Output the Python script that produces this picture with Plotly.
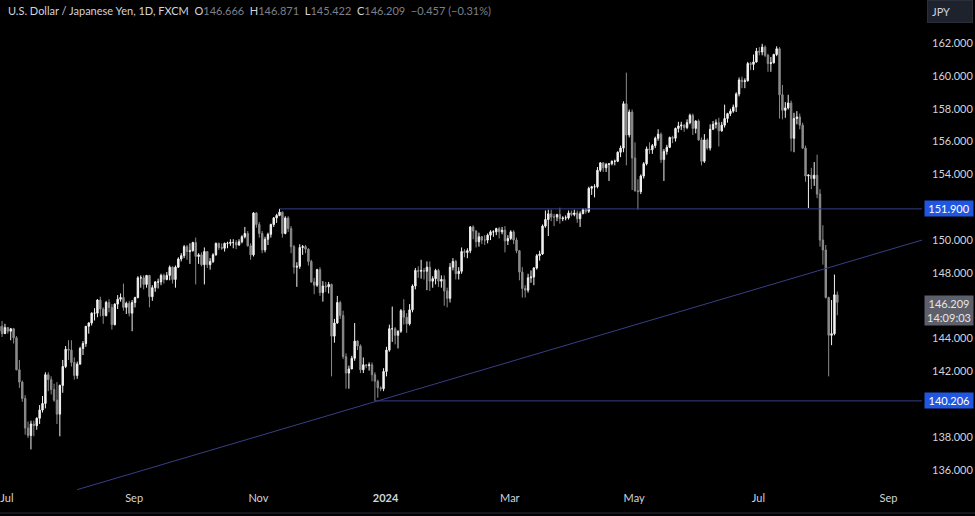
import pandas as pd
import plotly.graph_objects as go

# ---- Daily OHLC, USD/JPY (FXCM), 2023-06-29 .. 2024-08-08 (weekdays) ----
opens = [
    144.45, 144.75,
    144.30, 144.67, 144.45, 144.60, 144.05, 142.10, 141.35, 140.35, 138.55, 138.10, 138.80, 138.70, 139.15, 139.65, 140.05, 141.80, 141.50, 140.90, 140.25, 139.40, 141.15,
    142.30, 143.35, 143.30, 142.55, 141.75, 142.45, 143.40, 143.70, 144.75, 144.95, 145.55, 145.55, 146.35, 145.80, 145.40, 146.20, 145.90, 144.85, 146.10, 146.40, 146.50, 145.90, 146.15,
    145.55, 146.20, 146.50, 147.70, 147.70, 147.30, 147.85, 146.55, 147.10, 147.45, 147.45, 147.85, 147.60, 147.85, 148.35, 147.60, 148.35, 148.85, 149.05, 149.60, 149.30,
    149.35, 149.85, 149.00, 149.10, 148.50, 149.30, 148.50, 148.70, 149.10, 149.80, 149.55, 149.50, 149.80, 149.80, 149.85, 149.85, 149.70, 149.90, 150.20, 150.40, 149.65, 149.10,
    151.65, 150.95, 150.40, 149.40, 150.05, 150.35, 150.95, 151.35, 151.50, 151.70, 150.40, 151.35, 150.70, 149.60, 148.35, 148.40, 149.55, 149.60, 149.45, 148.70, 147.45, 147.25,
    148.20, 146.80, 147.20, 147.15, 147.30, 144.15, 144.95, 146.20, 145.40, 142.90, 141.90, 142.15, 142.80, 143.85, 143.55, 142.10, 142.40, 142.35, 142.40, 141.80, 141.40,
    141.00, 140.95, 142.00, 143.30, 144.60, 144.60, 144.20, 144.45, 145.70, 145.30, 144.90, 145.75, 147.20, 148.15, 148.10, 148.15, 148.10, 148.35, 147.50, 147.65, 148.15, 147.50, 147.60,
    146.90, 146.45, 148.35, 148.70, 147.95, 148.10, 149.30, 149.25, 149.35, 150.80, 150.55, 149.90, 150.20, 150.00, 150.00, 150.30, 150.50, 150.50, 150.70, 150.50, 150.60,
    149.95, 150.10, 150.50, 150.00, 149.35, 148.05, 147.05, 146.95, 147.70, 147.75, 148.30, 149.05, 149.15, 150.85, 151.25, 151.60, 151.40, 151.40, 151.55, 151.30, 151.35,
    151.35, 151.65, 151.55, 151.65, 151.30, 151.60, 151.85, 151.75, 153.15, 153.25, 153.25, 154.25, 154.70, 154.40, 154.60, 154.65, 154.80, 154.80, 155.35, 155.60, 158.30, 156.40,
    157.80, 155.00, 153.00, 152.95, 153.90, 154.65, 155.55, 155.50, 155.75, 156.20, 156.45, 154.90, 155.40, 155.65, 156.25, 156.20, 156.80, 156.95, 157.00, 156.85, 157.15, 157.60, 156.80,
    157.25, 156.10, 154.80, 156.10, 155.60, 156.75, 157.05, 157.15, 156.65, 157.00, 157.40, 157.70, 157.85, 158.10, 158.90, 159.75, 159.65, 159.70, 160.75, 160.70,
    160.85, 161.50, 161.45, 161.75, 161.25, 160.75, 160.80, 161.30, 161.65, 158.85, 157.90, 158.05, 158.35, 156.20, 157.40, 157.50, 157.00, 155.60, 153.90, 153.95, 153.75, 153.95, 152.80,
    150.00, 149.40, 146.50, 144.20, 144.30, 146.666,
]
highs = [
    144.80, 145.07,
    144.90, 144.70, 144.65, 144.65, 144.15, 142.70, 141.45, 140.55, 138.95, 139.00, 139.00, 139.20, 139.95, 140.50, 141.95, 141.95, 141.70, 141.25, 141.35, 141.20, 142.70,
    143.55, 143.90, 143.90, 142.85, 142.60, 143.50, 143.85, 144.75, 145.00, 145.60, 145.85, 146.40, 146.55, 145.90, 146.30, 146.40, 146.10, 146.15, 146.65, 146.75, 147.35, 146.25, 146.30,
    146.35, 146.55, 147.80, 147.85, 147.85, 147.85, 147.85, 147.25, 147.50, 147.65, 147.95, 147.95, 148.05, 148.45, 148.40, 148.45, 148.95, 149.20, 149.70, 149.70, 149.80,
    149.90, 150.15, 149.20, 149.25, 149.55, 149.30, 148.90, 149.20, 149.85, 149.85, 149.80, 149.85, 149.90, 150.05, 150.05, 150.00, 150.05, 150.30, 150.80, 150.55, 149.80, 151.70,
    151.70, 151.10, 150.55, 150.20, 150.45, 151.00, 151.40, 151.60, 151.90, 151.75, 151.45, 151.45, 150.85, 149.70, 148.65, 149.75, 149.70, 149.70, 149.50, 148.80, 147.70, 148.25,
    148.35, 147.50, 147.45, 147.45, 147.35, 145.20, 146.60, 146.30, 145.70, 143.10, 142.35, 142.95, 144.95, 143.90, 143.65, 142.85, 142.45, 142.55, 142.55, 141.95, 141.50,
    141.10, 142.20, 143.50, 144.85, 145.95, 144.70, 144.50, 145.80, 146.40, 145.55, 146.10, 147.30, 148.30, 148.40, 148.80, 148.30, 148.70, 148.70, 147.80, 148.25, 148.25, 147.85, 147.85,
    147.10, 148.60, 148.90, 148.80, 148.35, 149.55, 149.45, 149.50, 150.85, 150.90, 150.60, 150.45, 150.25, 150.30, 150.40, 150.60, 150.60, 150.75, 150.80, 150.80, 150.85,
    150.30, 150.60, 150.60, 150.15, 149.40, 148.35, 147.25, 147.95, 148.15, 148.35, 149.15, 149.35, 150.95, 151.80, 151.85, 151.85, 151.60, 151.60, 151.97, 151.45, 151.50,
    151.80, 151.80, 151.85, 151.80, 151.75, 151.95, 151.95, 153.25, 153.30, 153.40, 154.45, 154.75, 154.75, 154.70, 154.65, 154.85, 154.90, 155.40, 155.75, 158.45, 160.20, 157.95,
    157.95, 155.95, 153.70, 154.00, 154.75, 155.70, 155.95, 155.85, 156.30, 156.75, 156.55, 155.55, 155.80, 156.30, 156.35, 156.85, 157.20, 157.20, 157.05, 157.35, 157.70, 157.70, 157.30,
    157.35, 156.25, 156.45, 156.20, 157.05, 157.25, 157.35, 157.45, 157.20, 158.25, 157.75, 158.00, 158.25, 159.00, 159.90, 159.95, 159.85, 160.85, 160.85, 161.30,
    161.70, 161.75, 161.95, 161.85, 161.35, 161.15, 161.35, 161.80, 161.75, 159.45, 158.40, 158.85, 158.50, 157.75, 157.85, 157.70, 157.15, 155.75, 154.00, 154.40, 154.75, 155.20, 153.10,
    150.90, 149.70, 146.55, 146.35, 147.90, 146.871,
]
lows = [
    144.20, 144.10,
    144.30, 144.30, 143.90, 143.70, 142.07, 141.00, 140.15, 138.15, 137.95, 137.25, 138.05, 138.45, 138.80, 139.50, 139.75, 140.80, 140.60, 140.15, 138.80, 138.05, 140.70,
    142.20, 142.70, 142.30, 141.50, 141.55, 142.40, 143.00, 143.50, 144.30, 144.80, 145.10, 145.30, 145.35, 144.90, 145.35, 145.60, 144.55, 144.80, 145.80, 146.25, 145.70, 145.50, 145.35,
    144.45, 145.90, 146.45, 147.10, 147.00, 147.10, 145.90, 146.30, 146.85, 147.05, 147.25, 147.35, 147.55, 147.55, 147.35, 147.10, 148.30, 148.70, 148.90, 148.80, 148.55,
    149.30, 147.30, 148.55, 148.40, 147.30, 148.30, 148.20, 148.60, 149.05, 149.40, 149.40, 149.30, 149.50, 149.65, 149.50, 149.45, 149.65, 149.80, 150.10, 149.60, 148.80, 149.00,
    150.75, 150.15, 149.20, 149.25, 149.70, 150.15, 150.80, 151.05, 151.45, 150.15, 150.35, 150.50, 149.20, 147.95, 147.15, 148.25, 149.10, 149.20, 148.45, 147.40, 146.70, 147.15,
    146.60, 146.25, 146.85, 146.75, 141.70, 143.75, 144.90, 145.20, 142.75, 140.95, 140.95, 142.15, 142.65, 143.30, 141.90, 141.90, 142.20, 142.05, 141.40, 140.21, 140.40,
    140.80, 140.80, 141.70, 143.20, 143.80, 143.65, 143.40, 144.35, 144.85, 144.35, 144.80, 145.60, 147.00, 147.70, 147.65, 147.60, 146.95, 146.90, 147.10, 147.30, 147.15, 147.10, 146.00,
    145.90, 146.20, 148.15, 147.60, 147.60, 147.95, 148.95, 148.90, 149.20, 150.05, 149.55, 149.60, 149.75, 149.70, 149.80, 150.00, 150.20, 150.30, 150.10, 150.35, 149.25,
    149.70, 150.00, 149.75, 149.20, 147.55, 146.50, 146.50, 146.80, 147.40, 147.25, 148.20, 148.75, 149.10, 150.75, 150.25, 151.15, 150.85, 151.15, 151.00, 151.15, 151.20,
    151.25, 151.45, 151.45, 151.05, 150.80, 151.60, 151.60, 151.65, 152.75, 152.60, 153.15, 154.15, 154.15, 154.15, 153.60, 154.55, 154.55, 154.75, 155.05, 155.35, 154.55, 156.25,
    153.05, 152.95, 151.85, 152.80, 153.75, 154.55, 155.25, 155.25, 155.60, 156.05, 154.70, 153.60, 155.20, 155.60, 155.90, 156.00, 156.55, 156.70, 156.60, 156.75, 157.05, 156.40, 156.50,
    156.05, 154.55, 154.70, 155.50, 155.45, 156.70, 156.80, 155.70, 156.60, 156.85, 157.15, 157.55, 157.75, 157.80, 158.75, 159.25, 159.25, 159.65, 160.35, 160.35,
    160.80, 161.25, 161.25, 161.15, 160.25, 160.25, 160.75, 161.20, 157.40, 157.35, 157.45, 157.95, 155.40, 155.35, 157.05, 156.75, 155.55, 153.55, 151.95, 153.10, 153.30, 152.55, 149.60,
    148.50, 146.45, 141.70, 143.60, 144.20, 145.422,
]
closes = [
    144.75, 144.30,
    144.67, 144.45, 144.60, 144.05, 142.10, 141.35, 140.35, 138.55, 138.10, 138.80, 138.70, 139.15, 139.65, 140.05, 141.80, 141.50, 140.90, 140.25, 139.40, 141.15, 142.30,
    143.35, 143.30, 142.55, 141.75, 142.45, 143.40, 143.70, 144.75, 144.95, 145.55, 145.55, 146.35, 145.80, 145.40, 146.20, 145.90, 144.85, 146.10, 146.40, 146.50, 145.90, 146.15, 145.55,
    146.20, 146.50, 147.70, 147.70, 147.30, 147.85, 146.55, 147.10, 147.45, 147.45, 147.85, 147.60, 147.85, 148.35, 147.60, 148.35, 148.85, 149.05, 149.60, 149.30, 149.35,
    149.85, 149.00, 149.10, 148.50, 149.30, 148.50, 148.70, 149.10, 149.80, 149.55, 149.50, 149.80, 149.80, 149.85, 149.85, 149.70, 149.90, 150.20, 150.40, 149.65, 149.10, 151.65,
    150.95, 150.40, 149.40, 150.05, 150.35, 150.95, 151.35, 151.50, 151.70, 150.40, 151.35, 150.70, 149.60, 148.35, 148.40, 149.55, 149.60, 149.45, 148.70, 147.45, 147.25, 148.20,
    146.80, 147.20, 147.15, 147.30, 144.15, 144.95, 146.20, 145.40, 142.90, 141.90, 142.15, 142.80, 143.85, 143.55, 142.10, 142.40, 142.35, 142.40, 141.80, 141.40, 141.00,
    140.95, 142.00, 143.30, 144.60, 144.60, 144.20, 144.45, 145.70, 145.30, 144.90, 145.75, 147.20, 148.15, 148.10, 148.15, 148.10, 148.35, 147.50, 147.65, 148.15, 147.50, 147.60, 146.90,
    146.45, 148.35, 148.70, 147.95, 148.10, 149.30, 149.25, 149.35, 150.80, 150.55, 149.90, 150.20, 150.00, 150.00, 150.30, 150.50, 150.50, 150.70, 150.50, 150.60, 149.95,
    150.10, 150.50, 150.00, 149.35, 148.05, 147.05, 146.95, 147.70, 147.75, 148.30, 149.05, 149.15, 150.85, 151.25, 151.60, 151.40, 151.40, 151.55, 151.30, 151.35, 151.35,
    151.65, 151.55, 151.65, 151.30, 151.60, 151.85, 151.75, 153.15, 153.25, 153.25, 154.25, 154.70, 154.40, 154.60, 154.65, 154.80, 154.80, 155.35, 155.60, 158.30, 156.40, 157.80,
    155.00, 153.00, 152.95, 153.90, 154.65, 155.55, 155.50, 155.75, 156.20, 156.45, 154.90, 155.40, 155.65, 156.25, 156.20, 156.80, 156.95, 157.00, 156.85, 157.15, 157.60, 156.80, 157.25,
    156.10, 154.80, 156.10, 155.60, 156.75, 157.05, 157.15, 156.65, 157.00, 157.40, 157.70, 157.85, 158.10, 158.90, 159.75, 159.65, 159.70, 160.75, 160.70, 160.85,
    161.50, 161.45, 161.75, 161.25, 160.75, 160.80, 161.30, 161.65, 158.85, 157.90, 158.05, 158.35, 156.20, 157.40, 157.50, 157.00, 155.60, 153.90, 153.95, 153.75, 153.95, 152.80, 150.00,
    149.40, 146.50, 144.20, 144.30, 146.666, 146.209,
]
dates = pd.bdate_range("2023-06-29", periods=len(closes))

# ---- axis ticks / labels ----
x_tick_dates = ["2023-07-03", "2023-09-01", "2023-11-01", "2024-01-02",
                "2024-03-01", "2024-05-01", "2024-07-01", "2024-09-02"]
x_tick_labels = ["Jul", "Sep", "Nov", "<b>2024</b>", "Mar", "May", "Jul", "Sep"]
y_ticks = [136, 138, 142, 144, 148, 150, 154, 156, 158, 160, 162]
x_view = ["2023-06-29 07:00", "2024-09-18 07:00"]
y_view = [134.78, 164.62]

# ---- drawn levels ----
resistance_level = 151.9
resistance_start = "2023-11-13"
support_level = 140.206
support_start = "2023-12-28"
trend_x = ["2023-08-07", "2024-09-18 07:00"]
trend_y = [134.8, 150.0]

last = dict(o=opens[-1], h=highs[-1], l=lows[-1], c=closes[-1])
change = closes[-1] - opens[-1]
pct = change / opens[-1] * 100
countdown = "14:09:03"

UP = "#f2f2f2"
DOWN = "#8c8c8c"
LINE = "#363f86"
TXT = "#d1d4dc"
GREY = "#7d808a"
FONT = "Liberation Sans Narrow, Lato, Roboto, sans-serif"

fig = go.Figure()
fig.add_trace(go.Candlestick(
    x=dates, open=opens, high=highs, low=lows, close=closes,
    increasing=dict(line=dict(color=UP, width=1), fillcolor=UP),
    decreasing=dict(line=dict(color=DOWN, width=1), fillcolor=DOWN),
    whiskerwidth=0, hoverinfo="skip", showlegend=False,
))

shapes = [
    dict(type="line", xref="x", yref="y", x0=resistance_start, x1=x_view[1],
         y0=resistance_level, y1=resistance_level, line=dict(color=LINE, width=1)),
    dict(type="line", xref="x", yref="y", x0=support_start, x1=x_view[1],
         y0=support_level, y1=support_level, line=dict(color=LINE, width=1)),
    dict(type="line", xref="x", yref="y", x0=trend_x[0], x1=trend_x[1],
         y0=trend_y[0], y1=trend_y[1], line=dict(color=LINE, width=1)),
    dict(type="line", xref="paper", yref="paper", x0=0, x1=1.06, y0=-0.047, y1=-0.047,
         line=dict(color="#2a2e39", width=1)),
]

def fmt(v):
    return f"{v:.3f}"

sign = "\u2212" if change < 0 else "+"
title = (f"<span style='color:{TXT}'>U.S. Dollar / Japanese Yen, 1D, FXCM</span>"
         f"  <span style='color:{TXT}'>O</span><span style='color:{GREY}'>{fmt(last['o'])}</span>"
         f"  <span style='color:{TXT}'>H</span><span style='color:{GREY}'>{fmt(last['h'])}</span>"
         f"  <span style='color:{TXT}'>L</span><span style='color:{GREY}'>{fmt(last['l'])}</span>"
         f"  <span style='color:{TXT}'>C</span><span style='color:{GREY}'>{fmt(last['c'])}</span>"
         f"  <span style='color:{GREY}'>{sign}{abs(change):.3f} ({sign}{abs(pct):.2f}%)</span>")

annotations = [
    dict(xref="paper", yref="paper", x=0.007, y=1 - 10 / 490, xanchor="left", yanchor="middle",
         text=title, showarrow=False, font=dict(family=FONT, size=11, color=TXT)),
    dict(xref="paper", yref="y", x=1.002, y=resistance_level, xanchor="left", yanchor="middle",
         text=fmt(resistance_level), showarrow=False, bgcolor="#2157e0", borderpad=1, width=46,
         font=dict(family=FONT, size=11, color="#ffffff")),
    dict(xref="paper", yref="y", x=1.002, y=support_level, xanchor="left", yanchor="middle",
         text=fmt(support_level), showarrow=False, bgcolor="#2157e0", borderpad=1, width=46,
         font=dict(family=FONT, size=11, color="#ffffff")),
    dict(xref="paper", yref="y", x=1.002, y=closes[-1], xanchor="left", yanchor="top", yshift=7,
         text=f"{fmt(closes[-1])}<br>{countdown}", showarrow=False, bgcolor="#5d606b",
         borderpad=1, width=46, font=dict(family=FONT, size=11, color="#e6e6e6")),
    dict(xref="paper", yref="paper", x=1.0055, y=1.0, xanchor="left", yanchor="top",
         text="JPY", showarrow=False, bgcolor="#1e222d", bordercolor="#2a2e39", borderwidth=1,
         borderpad=4, width=36, align="left", font=dict(family=FONT, size=11, color=TXT)),
]

fig.update_layout(
    width=975, height=516,
    margin=dict(l=0, r=53, t=0, b=26, autoexpand=False),
    paper_bgcolor="#000000", plot_bgcolor="#000000",
    shapes=shapes, annotations=annotations,
    showlegend=False,
    font=dict(family=FONT, size=11, color=TXT),
    xaxis=dict(
        range=x_view, rangeslider=dict(visible=False),
        rangebreaks=[dict(bounds=["sat", "mon"])],
        tickmode="array", tickvals=x_tick_dates, ticktext=x_tick_labels,
        showgrid=False, zeroline=False, showline=False, ticks="", automargin=False,
        ticklabeloverflow="allow", ticklabelshift=2,
        tickfont=dict(family=FONT, size=11, color=TXT),
    ),
    yaxis=dict(
        side="right", range=y_view, tickmode="array", tickvals=y_ticks, tickformat=".3f",
        showgrid=False, zeroline=False, showline=False, ticks="", ticklabelstandoff=9,
        automargin=False, ticklabeloverflow="allow",
        tickfont=dict(family=FONT, size=11, color=TXT),
    ),
)

fig.write_html("out.html", config={"displayModeBar": False},
               post_script="document.body.style.margin='0';")
